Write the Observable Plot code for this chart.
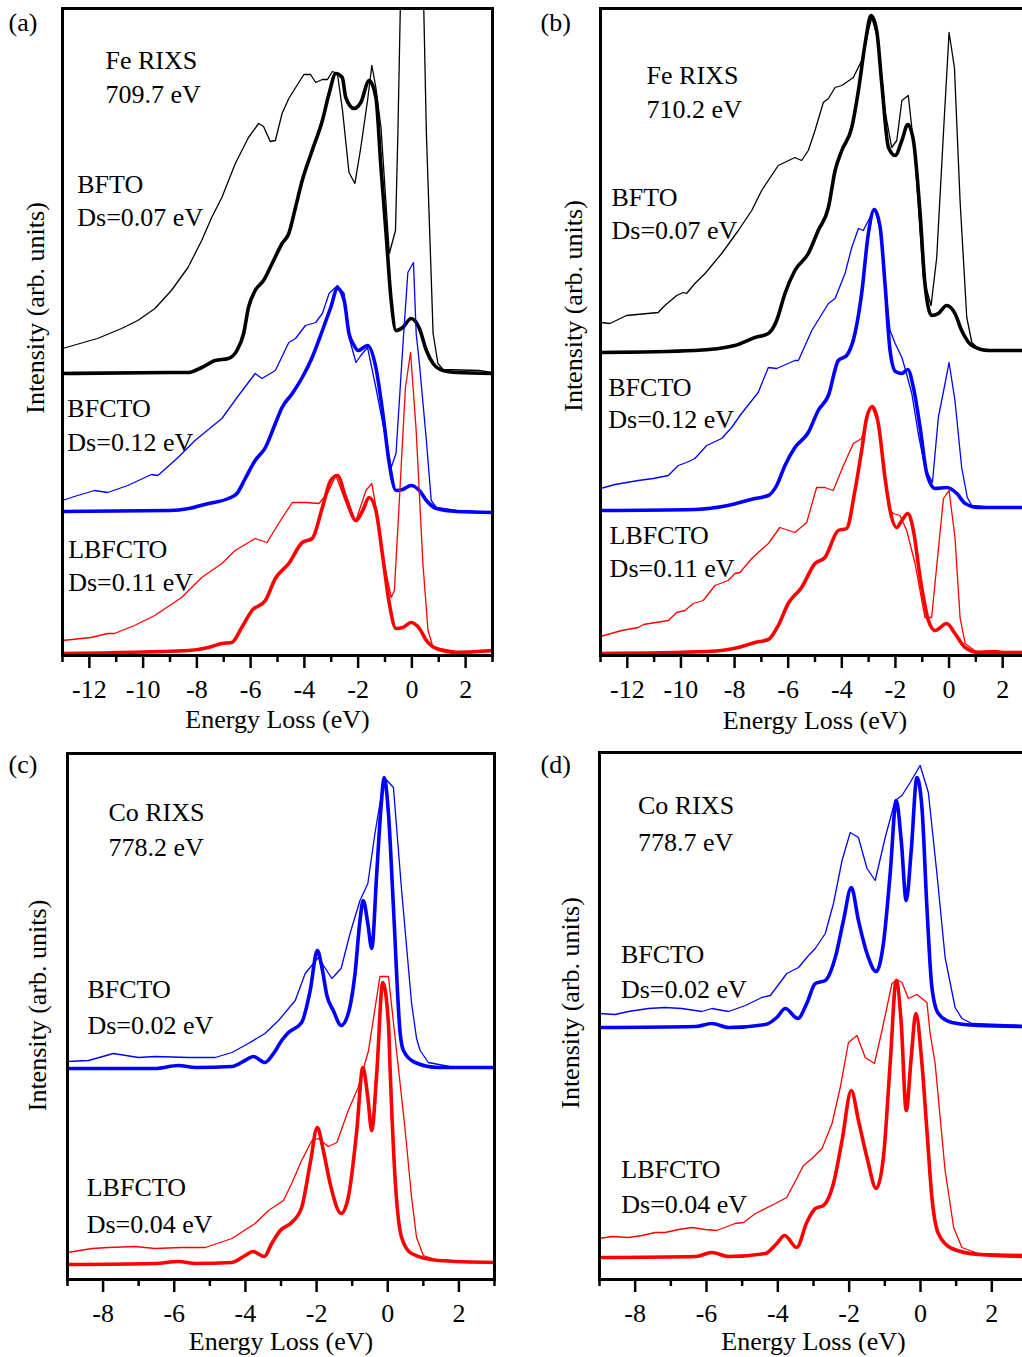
<!DOCTYPE html>
<html><head><meta charset="utf-8">
<script src="https://cdn.jsdelivr.net/npm/d3@7"></script>
<script src="https://cdn.jsdelivr.net/npm/@observablehq/plot@0.6"></script>
<style>
html,body{margin:0;padding:0;background:#fff;}
#wrap{position:relative;width:1022px;height:1357px;overflow:hidden;background:#fff;}
#wrap svg{position:absolute;}
</style></head><body><div id="wrap"></div>
<script>
// ---------- Data: [energy loss (eV), intensity (arb. units, with vertical offset)] ----------
// Panel (a) Fe RIXS 709.7 eV
const a_BFTO_exp = [[-13,307],[-11.7,317],[-10.8,327],[-10.2,335],[-9.56,347],[-8.95,365],[-8.33,388],[-7.82,415],[-7.45,438],[-7.07,458],[-6.57,492],[-6.08,518],[-5.7,532],[-5.52,529],[-5.27,514],[-5.08,515],[-4.83,542],[-4.58,557],[-4.02,581],[-3.77,581],[-3.58,573],[-3.33,576],[-3.14,576],[-2.96,584],[-2.77,582],[-2.58,545],[-2.34,483],[-2.12,472],[-1.9,508],[-1.65,555],[-1.49,590],[-1.34,568],[-1.15,528],[-0.84,402],[-0.61,425],[-0.52,522],[-0.3,830],[0,900],[0.3,830],[0.54,522],[0.79,322],[0.97,292],[1.16,286],[2.5,285],[3,283]];
const a_BFTO_calc = [[-13,282],[-9,283],[-8.3,283],[-7.82,288],[-7.32,295],[-6.83,297],[-6.51,305],[-6.26,322],[-6.08,348],[-5.83,365],[-5.52,375],[-5.2,392],[-4.83,412],[-4.58,422],[-4.33,448],[-4.08,475],[-3.71,505],[-3.33,535],[-3.08,562],[-2.83,582],[-2.59,578],[-2.46,558],[-2.15,547],[-1.9,553],[-1.59,575],[-1.34,558],[-1.15,488],[-0.96,422],[-0.77,355],[-0.59,325],[-0.34,328],[-0.03,337],[0.28,327],[0.54,305],[0.79,292],[1.16,285],[1.67,283],[3,282]];
const a_BFCTO_exp = [[-13,155],[-12.56,159],[-11.81,165],[-11.32,163],[-10.57,170],[-9.69,181],[-9.45,180],[-8.7,198],[-8.07,215],[-7.07,237],[-6.45,260],[-5.83,282],[-5.58,277],[-5.08,285],[-4.58,313],[-4.33,317],[-3.96,330],[-3.58,333],[-3.33,342],[-3.08,362],[-2.77,370],[-2.52,362],[-2.34,318],[-2.08,293],[-1.9,300],[-1.65,308],[-1.34,268],[-0.96,215],[-0.77,188],[-0.59,202],[-0.34,308],[-0.15,383],[0.06,393],[0.16,322],[0.28,292],[0.54,215],[0.72,155],[0.91,148],[1.67,145],[3,143]];
const a_BFCTO_calc = [[-13,144],[-9,145],[-8.3,147],[-7.57,152],[-6.83,157],[-6.51,162],[-6.2,177],[-5.83,195],[-5.45,208],[-5.08,232],[-4.83,248],[-4.45,262],[-4.08,278],[-3.71,298],[-3.33,325],[-3.02,348],[-2.77,367],[-2.52,355],[-2.34,322],[-2.15,310],[-2.0,305],[-1.65,310],[-1.34,288],[-1.08,242],[-0.84,192],[-0.59,165],[-0.34,166],[-0.03,170],[0.28,165],[0.54,155],[0.91,147],[1.67,144],[3,143]];
const a_LBFCTO_exp = [[-13,15],[-11.94,18],[-11.32,22],[-11.07,22],[-10.32,30],[-9.57,40],[-8.57,58],[-7.82,78],[-7.07,92],[-6.58,105],[-5.83,117],[-5.39,113],[-4.96,132],[-4.45,153],[-3.96,153],[-3.46,152],[-3.14,162],[-2.83,180],[-2.34,145],[-2.08,135],[-1.71,165],[-1.49,172],[-1.27,138],[-1.03,92],[-0.77,58],[-0.65,65],[-0.46,158],[-0.24,268],[-0.05,303],[0.16,225],[0.41,92],[0.6,25],[0.79,8],[1.67,4],[3,4]];
const a_LBFCTO_calc = [[-13,2],[-8.3,5],[-7.57,8],[-7.07,12],[-6.7,13],[-6.33,28],[-5.95,45],[-5.45,55],[-5.08,77],[-4.58,92],[-4.08,113],[-3.71,117],[-3.33,148],[-3.02,175],[-2.77,180],[-2.46,158],[-2.08,135],[-1.83,145],[-1.59,158],[-1.34,145],[-1.08,98],[-0.84,52],[-0.59,27],[-0.34,28],[-0.03,33],[0.28,27],[0.54,15],[0.91,7],[1.67,3],[3,5]];

// Panel (b) Fe RIXS 710.2 eV
const b_BFTO_exp = [[-13,333],[-12.65,332],[-12.03,340],[-10.85,343],[-10.6,350],[-10.16,360],[-9.91,363],[-9.79,362],[-9.48,372],[-9.1,382],[-8.48,402],[-7.86,425],[-7.36,445],[-6.99,465],[-6.37,490],[-5.75,498],[-5.5,495],[-5.25,505],[-5.0,525],[-4.69,553],[-4.5,557],[-4.25,568],[-4.0,570],[-3.57,578],[-3.26,595],[-3.01,625],[-2.88,638],[-2.64,615],[-2.39,545],[-2.14,508],[-1.95,515],[-1.76,555],[-1.52,560],[-1.27,498],[-0.96,378],[-0.67,350],[-0.46,398],[-0.21,522],[0,623],[0.2,588],[0.41,455],[0.66,338],[0.85,313],[1.1,307],[1.72,305],[3,306]];
const b_BFTO_calc = [[-13,303],[-9.48,305],[-7.99,310],[-7.24,318],[-6.74,322],[-6.43,335],[-6.12,362],[-5.75,385],[-5.25,402],[-4.88,425],[-4.5,448],[-4.25,485],[-4.0,505],[-3.63,528],[-3.38,565],[-3.13,612],[-2.91,640],[-2.7,625],[-2.51,572],[-2.26,508],[-2.01,500],[-1.76,515],[-1.54,531],[-1.33,515],[-1.08,442],[-0.9,372],[-0.65,340],[-0.4,342],[-0.09,350],[0.22,342],[0.47,325],[0.85,310],[1.47,305],[3,305]];
const b_BFCTO_exp = [[-13,167],[-12.46,171],[-11.59,175],[-11.03,177],[-10.47,180],[-10.1,190],[-9.79,193],[-9.48,197],[-9.04,210],[-8.48,217],[-8.11,228],[-7.74,242],[-7.12,263],[-6.74,288],[-6.43,287],[-5.75,295],[-5.62,295],[-5.12,325],[-4.5,352],[-4.25,357],[-3.88,382],[-3.63,408],[-3.38,427],[-3.2,425],[-2.95,438],[-2.79,447],[-2.57,428],[-2.39,372],[-2.2,325],[-2.01,312],[-1.76,298],[-1.64,287],[-1.39,262],[-1.15,222],[-0.9,188],[-0.62,173],[-0.4,238],[-0.18,268],[0,293],[0.22,255],[0.47,188],[0.68,158],[0.85,150],[1.72,148],[3,148]];
const b_BFCTO_calc = [[-13,145],[-9.48,146],[-8.24,150],[-7.24,157],[-6.74,160],[-6.43,170],[-6.12,190],[-5.75,208],[-5.25,223],[-4.88,245],[-4.5,260],[-4.13,295],[-3.82,300],[-3.51,322],[-3.26,362],[-3.01,422],[-2.79,446],[-2.57,428],[-2.39,372],[-2.2,305],[-2.0,284],[-1.76,282],[-1.54,286],[-1.33,268],[-1.08,228],[-0.83,182],[-0.52,167],[-0.09,168],[0.29,162],[0.6,152],[1.1,148],[3,148]];
const b_LBFCTO_exp = [[-13,19],[-12.21,25],[-11.59,28],[-11.4,31],[-10.47,35],[-10.16,43],[-9.85,45],[-9.54,52],[-9.17,55],[-8.73,70],[-8.24,75],[-7.99,82],[-7.8,83],[-7.36,97],[-7.12,103],[-6.74,112],[-6.31,128],[-5.75,123],[-5.31,133],[-4.94,168],[-4.63,168],[-4.32,165],[-3.94,190],[-3.57,212],[-3.26,217],[-3.03,242],[-2.88,249],[-2.64,232],[-2.39,178],[-2.2,145],[-2.08,142],[-1.83,140],[-1.58,125],[-1.27,92],[-0.9,38],[-0.65,38],[-0.21,157],[0,165],[0.22,118],[0.41,38],[0.6,12],[1.0,4],[1.72,5],[2.2,3],[3,3]];
const b_LBFCTO_calc = [[-13,2],[-9,4],[-7.86,8],[-7.24,13],[-6.74,16],[-6.37,30],[-6.0,52],[-5.5,68],[-5.0,92],[-4.63,98],[-4.13,125],[-3.82,127],[-3.51,165],[-3.26,205],[-3.07,238],[-2.86,249],[-2.64,232],[-2.39,178],[-2.2,145],[-1.95,128],[-1.76,135],[-1.54,142],[-1.33,125],[-1.08,78],[-0.77,35],[-0.52,25],[-0.09,32],[0.22,22],[0.6,8],[1.1,3],[3,3]];

// Panel (c) Co RIXS 778.2 eV
const c_BFCTO_exp = [[-9,218],[-8.41,219],[-7.71,226],[-7.0,222],[-6.54,223],[-5.6,222],[-4.85,222],[-4.38,227],[-3.92,236],[-3.45,246],[-3.07,259],[-2.6,279],[-2.32,306],[-1.95,322],[-1.57,301],[-1.31,311],[-1.06,346],[-0.78,379],[-0.56,396],[-0.36,446],[-0.1,502],[0.16,492],[0.39,389],[0.67,276],[0.81,241],[0.91,229],[1.14,217],[1.88,212],[3,212]];
const c_BFCTO_calc = [[-9,211],[-6.54,211],[-5.88,214],[-5.4,212],[-4.38,213],[-4.01,219],[-3.78,223],[-3.45,217],[-3.21,226],[-2.98,239],[-2.79,247],[-2.42,257],[-2.18,289],[-1.98,329],[-1.85,312],[-1.71,284],[-1.53,269],[-1.31,254],[-1.11,266],[-0.92,306],[-0.78,359],[-0.69,379],[-0.56,356],[-0.45,331],[-0.31,406],[-0.19,472],[-0.1,502],[0.02,466],[0.16,372],[0.35,246],[0.44,229],[0.77,217],[1.42,212],[3,212]];
const c_LBFCTO_exp = [[-9,27],[-8.31,31],[-7.85,32],[-7.1,33],[-6.54,31],[-5.79,32],[-5.13,32],[-4.38,41],[-3.73,56],[-3.35,69],[-2.93,79],[-2.7,96],[-2.42,119],[-2.13,139],[-1.95,141],[-1.67,133],[-1.43,137],[-1.11,169],[-0.83,192],[-0.54,229],[-0.22,303],[0.02,303],[0.49,149],[0.67,82],[0.81,42],[1.0,24],[1.42,19],[3,17]];
const c_LBFCTO_calc = [[-9,15],[-6.54,16],[-5.88,18],[-5.4,16],[-4.38,17],[-4.01,24],[-3.79,28],[-3.47,23],[-3.26,36],[-3.02,49],[-2.7,57],[-2.42,72],[-2.18,116],[-1.98,152],[-1.81,129],[-1.62,96],[-1.31,66],[-1.11,82],[-0.87,149],[-0.7,212],[-0.56,182],[-0.45,149],[-0.31,206],[-0.14,297],[0.02,256],[0.06,216],[0.21,99],[0.39,42],[0.67,26],[1.42,19],[3,17]];

// Panel (d) Co RIXS 778.7 eV
const d_BFCTO_exp = [[-9,266],[-8.56,265],[-8.19,268],[-7.63,271],[-7.16,272],[-6.69,271],[-6.13,268],[-5.85,271],[-5.38,268],[-4.91,274],[-4.45,282],[-4.21,284],[-3.75,306],[-3.42,312],[-3.14,324],[-2.95,331],[-2.67,346],[-2.44,376],[-2.2,419],[-1.97,447],[-1.74,442],[-1.5,411],[-1.27,399],[-0.99,442],[-0.71,479],[-0.52,484],[-0.29,497],[-0.01,514],[0.22,487],[0.46,406],[0.69,322],[0.97,272],[1.16,261],[1.44,256],[3,254]];
const d_BFCTO_calc = [[-9,252],[-6.3,253],[-5.85,256],[-5.38,252],[-4.35,255],[-4.03,262],[-3.79,271],[-3.44,261],[-3.19,276],[-2.95,296],[-2.67,299],[-2.39,322],[-2.16,359],[-1.94,392],[-1.74,359],[-1.5,326],[-1.24,308],[-1.04,336],[-0.85,406],[-0.68,479],[-0.54,439],[-0.4,379],[-0.26,429],[-0.1,502],[0.04,472],[0.18,372],[0.32,292],[0.5,266],[0.88,257],[1.62,254],[3,253]];
const d_LBFCTO_exp = [[-9,41],[-8.65,43],[-8.19,42],[-7.81,44],[-7.44,47],[-7.16,47],[-6.78,50],[-6.41,52],[-6.04,50],[-5.71,49],[-5.2,56],[-4.96,57],[-4.63,66],[-4.07,76],[-3.75,82],[-3.28,114],[-3.04,121],[-2.76,131],[-2.48,156],[-2.25,192],[-2.02,237],[-1.78,244],[-1.55,222],[-1.29,216],[-1.08,249],[-0.8,296],[-0.66,300],[-0.52,297],[-0.34,281],[-0.1,285],[0.18,277],[0.27,246],[0.41,216],[0.69,109],[0.93,52],[1.16,32],[1.62,26],[3,25]];
const d_LBFCTO_calc = [[-9,22],[-6.3,23],[-5.85,27],[-5.38,23],[-4.35,26],[-4.03,36],[-3.81,44],[-3.47,32],[-3.19,57],[-2.95,71],[-2.72,74],[-2.44,96],[-2.2,139],[-1.94,189],[-1.74,159],[-1.5,122],[-1.24,91],[-1.04,122],[-0.85,216],[-0.68,299],[-0.54,256],[-0.4,169],[-0.26,222],[-0.13,266],[0.04,216],[0.18,149],[0.32,82],[0.5,46],[0.88,31],[1.62,25],[3,23]];

// Tick values
const feTicksMajor = [-12,-10,-8,-6,-4,-2,0,2];
const feTicksMinor = [-13,-11,-9,-7,-5,-3,-1,1,3];
const coTicksMajor = [-8,-6,-4,-2,0,2];
const coTicksMinor = [-9,-7,-5,-3,-1,1,3];

// Text labels
const aTexts = ["Fe RIXS","709.7 eV","BFTO","Ds=0.07 eV","BFCTO","Ds=0.12 eV","LBFCTO","Ds=0.11 eV"];
const bTexts = ["Fe RIXS","710.2 eV","BFTO","Ds=0.07 eV","BFCTO","Ds=0.12 eV","LBFCTO","Ds=0.11 eV"];
const cTexts = ["Co RIXS","778.2 eV","BFCTO","Ds=0.02 eV","LBFCTO","Ds=0.04 eV"];
const dTexts = ["Co RIXS","778.7 eV","BFCTO","Ds=0.02 eV","LBFCTO","Ds=0.04 eV"];
const xLabel = "Energy Loss (eV)";
const yLabel = "Intensity (arb. units)";

// ---------- Layout (separate from data) ----------
const aTextPos = [[-11.4,587],[-11.4,553],[-12.45,463],[-12.45,430],[-12.82,239],[-12.82,205],[-12.79,98],[-12.79,65]];
const bTextPos = [[-11.28,572],[-11.28,538],[-12.59,450],[-12.59,417],[-12.71,260],[-12.71,228],[-12.66,112],[-12.66,79]];
const cTextPos = [[-7.85,459],[-7.85,424],[-8.44,282],[-8.44,246],[-8.46,84],[-8.46,47]];
const dTextPos = [[-7.92,466],[-7.92,429],[-8.40,317],[-8.40,282],[-8.39,102],[-8.39,67]];

const BLACK = "#000000", BLUE = "#0000ff", RED = "#ff0000";
const FONT = "'Liberation Serif','Times New Roman',Times,serif";

function panel(o) {
  const curves = o.curves;
  const labels = o.texts.map((t, i) => ({t, x: o.textPos[i][0], y: o.textPos[i][1]}));
  const svg = Plot.plot({
    width: o.width, height: o.height,
    marginLeft: o.ml, marginRight: o.mr, marginTop: o.mt, marginBottom: o.mb,
    x: {domain: o.xDomain},
    y: {domain: [0, o.yMax], axis: null},
    style: {fontFamily: FONT, fontSize: "26px", background: "transparent", overflow: "visible", color: "#000"},
    marks: [
      ...curves.map(c => Plot.line(c.data, {
        x: d => d[0], y: d => d[1],
        stroke: c.color, strokeWidth: c.calc ? 3.6 : 1.3,
        curve: c.calc ? "monotone-x" : "linear", clip: true,
        strokeLinejoin: "round"
      })),
      Plot.frame({strokeWidth: 3}),
      Plot.axisX({ticks: o.major, tickSize: 13, tickPadding: 11, strokeWidth: 2.5, fontSize: 26, tickFormat: d => String(d), label: null}),
      Plot.axisX({ticks: o.minor, tickSize: 7, strokeWidth: 2.5, tickFormat: () => "", label: null}),
      Plot.text([xLabel], {text: d => d, frameAnchor: "bottom", dy: o.xlDy, textAnchor: "middle", lineAnchor: "bottom", fontSize: 26}),
      Plot.text([yLabel], {text: d => d, frameAnchor: "left", rotate: -90, dx: o.ylDx, dy: o.ylDy, textAnchor: "middle", lineAnchor: "bottom", fontSize: 26}),
      Plot.text(labels, {x: "x", y: "y", text: "t", textAnchor: "start", lineAnchor: "bottom", fontSize: 26}),
      Plot.text([o.tag], {text: d => d, frameAnchor: "top-left", dx: o.tagDx, dy: o.tagDy, textAnchor: "start", lineAnchor: "bottom", fontSize: 26})
    ]
  });
  svg.style.left = o.left + "px";
  svg.style.top = o.top + "px";
  return svg;
}

const wrap = document.getElementById("wrap");
wrap.appendChild(panel({
  left: 0, top: 0, width: 511, height: 740, ml: 62, mr: 19, mt: 8, mb: 85,
  xDomain: [-13, 3], yMax: 647, major: feTicksMajor, minor: feTicksMinor,
  curves: [
    {data: a_BFTO_exp, color: BLACK}, {data: a_BFTO_calc, color: BLACK, calc: true},
    {data: a_BFCTO_exp, color: BLUE}, {data: a_BFCTO_calc, color: BLUE, calc: true},
    {data: a_LBFCTO_exp, color: RED}, {data: a_LBFCTO_calc, color: RED, calc: true}
  ],
  texts: aTexts, textPos: aTextPos, tag: "(a)", tagDx: -54, tagDy: 22,
  xlDy: 72, ylDx: -19, ylDy: -24
}));
wrap.appendChild(panel({
  left: 511, top: 0, width: 530, height: 740, ml: 89, mr: 12, mt: 8, mb: 85,
  xDomain: [-13, 3], yMax: 647, major: feTicksMajor, minor: feTicksMinor,
  curves: [
    {data: b_BFTO_exp, color: BLACK}, {data: b_BFTO_calc, color: BLACK, calc: true},
    {data: b_BFCTO_exp, color: BLUE}, {data: b_BFCTO_calc, color: BLUE, calc: true},
    {data: b_LBFCTO_exp, color: RED}, {data: b_LBFCTO_calc, color: RED, calc: true}
  ],
  texts: bTexts, textPos: bTextPos, tag: "(b)", tagDx: -60, tagDy: 22,
  xlDy: 73, ylDx: -19, ylDy: -26
}));
wrap.appendChild(panel({
  left: 0, top: 740, width: 511, height: 617, ml: 67, mr: 17, mt: 13, mb: 78,
  xDomain: [-9, 3], yMax: 526, major: coTicksMajor, minor: coTicksMinor,
  curves: [
    {data: c_BFCTO_exp, color: BLUE}, {data: c_BFCTO_calc, color: BLUE, calc: true},
    {data: c_LBFCTO_exp, color: RED}, {data: c_LBFCTO_calc, color: RED, calc: true}
  ],
  texts: cTexts, textPos: cTextPos, tag: "(c)", tagDx: -59, tagDy: 19,
  xlDy: 70, ylDx: -22, ylDy: -11
}));
wrap.appendChild(panel({
  left: 511, top: 740, width: 530, height: 617, ml: 88, mr: 14, mt: 12, mb: 78,
  xDomain: [-9, 3], yMax: 527, major: coTicksMajor, minor: coTicksMinor,
  curves: [
    {data: d_BFCTO_exp, color: BLUE}, {data: d_BFCTO_calc, color: BLUE, calc: true},
    {data: d_LBFCTO_exp, color: RED}, {data: d_LBFCTO_calc, color: RED, calc: true}
  ],
  texts: dTexts, textPos: dTextPos, tag: "(d)", tagDx: -59, tagDy: 20,
  xlDy: 70, ylDx: -21, ylDy: -13
}));
</script></body></html>
